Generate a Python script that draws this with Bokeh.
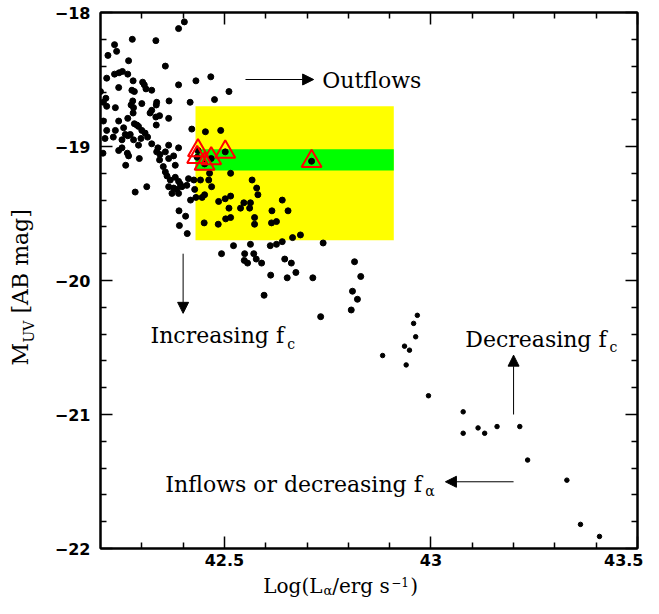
import math
from bokeh.plotting import figure
from bokeh.layouts import row, column
from bokeh.models import Range1d, LinearAxis, FixedTicker, Arrow, NormalHead, Label
from bokeh.embed import file_html
from bokeh.resources import INLINE

# ---------------- data ----------------
lae_x = [42.389, 42.403, 42.234, 42.277, 42.334, 42.239, 42.218, 42.268, 42.357, 42.215,
         42.234, 42.245, 42.253, 42.266, 42.279, 42.302, 42.306, 42.310, 42.244, 42.276,
         42.282, 42.324, 42.389, 42.431, 42.467, 42.511, 42.476, 42.417, 42.366, 42.336,
         42.335, 42.300, 42.278, 42.274, 42.280, 42.200, 42.213, 42.207, 42.215, 42.236,
         42.324, 42.279, 42.320, 42.334, 42.343, 42.365, 42.266, 42.244, 42.207, 42.282,
         42.288, 42.292, 42.335, 42.215, 42.236, 42.256, 42.300, 42.308, 42.260, 42.266,
         42.272, 42.211, 42.231, 42.252, 42.280, 42.298, 42.314, 42.292, 42.324, 42.339,
         42.365, 42.389, 42.206, 42.244, 42.252, 42.265, 42.268, 42.336, 42.344, 42.357,
         42.377, 42.294, 42.343, 42.365, 42.261, 42.352, 42.381, 42.357, 42.361, 42.369,
         42.381, 42.389, 42.393, 42.413, 42.365, 42.377, 42.385, 42.397, 42.409, 42.312,
         42.284, 42.373, 42.389, 42.418, 42.390, 42.406, 42.391, 42.410, 42.431, 42.421,
         42.454, 42.491, 42.436, 42.434, 42.502, 42.468, 42.452, 42.515, 42.711, 42.464,
         42.426, 42.442, 42.462, 42.567, 42.469, 42.428, 42.578, 42.581, 42.452, 42.515,
         42.446, 42.486, 42.502, 42.547, 42.563, 42.511, 42.539, 42.561, 42.640, 42.615,
         42.654, 42.573, 42.573, 42.451, 42.485, 42.503, 42.515, 42.614, 42.626, 42.665,
         42.684, 42.640, 42.626, 42.611, 42.563, 42.522, 42.493, 42.549, 42.571, 42.548,
         42.556, 42.577, 42.590, 42.646, 42.662, 42.673, 42.612, 42.652, 42.596, 42.739,
         42.815, 42.714, 42.830, 42.810, 42.822, 42.807, 42.733]
lae_y = [-18.12, -18.07, -18.24, -18.20, -18.21, -18.29, -18.32, -18.36, -18.40, -18.49,
         -18.46, -18.45, -18.44, -18.46, -18.51, -18.52, -18.54, -18.57, -18.56, -18.58,
         -18.59, -18.58, -18.54, -18.51, -18.48, -18.59, -18.65, -18.67, -18.66, -18.67,
         -18.69, -18.68, -18.66, -18.69, -18.71, -18.59, -18.64, -18.67, -18.70, -18.71,
         -18.73, -18.75, -18.75, -18.78, -18.77, -18.79, -18.79, -18.81, -18.81, -18.83,
         -18.84, -18.85, -18.84, -18.88, -18.88, -18.86, -18.88, -18.90, -18.91, -18.92,
         -18.91, -18.94, -18.93, -18.95, -18.95, -18.94, -18.93, -18.99, -18.98, -19.01,
         -18.99, -19.01, -19.05, -19.03, -19.01, -19.05, -19.07, -19.04, -19.06, -19.04,
         -19.07, -19.09, -19.10, -19.09, -19.14, -19.15, -19.14, -19.19, -19.22, -19.25,
         -19.23, -19.26, -19.28, -19.24, -19.30, -19.31, -19.32, -19.30, -19.29, -19.30,
         -19.34, -19.35, -19.35, -19.40, -19.48, -19.52, -19.59, -19.65, -19.38, -18.87,
         -18.89, -18.88, -19.03, -19.08, -19.04, -19.09, -19.13, -19.20, -19.11, -19.20,
         -19.25, -19.25, -19.25, -19.25, -19.30, -19.32, -19.31, -19.36, -19.36, -19.37,
         -19.38, -19.41, -19.39, -19.42, -19.42, -19.46, -19.46, -19.46, -19.40, -19.48,
         -19.48, -19.53, -19.58, -19.57, -19.58, -19.54, -19.53, -19.57, -19.56, -19.68,
         -19.66, -19.71, -19.73, -19.74, -19.73, -19.74, -19.80, -19.80, -19.80, -19.85,
         -19.87, -19.84, -19.87, -19.84, -19.87, -19.94, -19.96, -19.98, -20.11, -19.72,
         -19.86, -19.98, -19.97, -20.08, -20.14, -20.22, -20.27]

bright_x = [42.967, 42.883, 42.958, 42.963, 42.936, 42.948, 42.940, 42.994, 43.078, 43.078,
            43.114, 43.130, 43.160, 43.215, 43.234, 43.329, 43.362, 43.408]
bright_y = [-20.26, -20.56, -20.32, -20.42, -20.49, -20.52, -20.63, -20.86, -20.98, -21.14,
            -21.10, -21.14, -21.09, -21.09, -21.34, -21.49, -21.82, -21.91]

tri_x = [42.436, 42.434, 42.452, 42.468, 42.502, 42.711]
tri_y = [-19.03, -19.08, -19.13, -19.09, -19.04, -19.11]

box_x = [42.43, 42.91]
box_y = [-19.70, -18.70]
band_y = [-19.18, -19.02]

x_ticks = [42.5, 43.0, 43.5]
x_tick_labels = ["42.5", "43", "43.5"]
x_minor = [42.3, 42.4, 42.6, 42.7, 42.8, 42.9, 43.1, 43.2, 43.3, 43.4]
y_ticks = [-18, -19, -20, -21, -22]
y_tick_labels = ["\u221218", "\u221219", "\u221220", "\u221221", "\u221222"]
y_minor = [-18.2, -18.4, -18.6, -18.8, -19.2, -19.4, -19.6, -19.8, -20.2, -20.4,
           -20.6, -20.8, -21.2, -21.4, -21.6, -21.8]

SERIF = "DejaVu Serif"

# ---------------- main figure ----------------
p = figure(width=603, height=573, x_range=Range1d(42.2, 43.5), y_range=Range1d(-22, -18),
           output_backend="svg", toolbar_location=None,
           min_border_left=60, min_border_right=6, min_border_top=12, min_border_bottom=25)
p.background_fill_color = "white"
p.border_fill_color = "white"
p.outline_line_color = "black"
p.outline_line_width = 2
p.grid.visible = False

p.quad(left=box_x[0], right=box_x[1], bottom=box_y[0], top=box_y[1],
       fill_color="#FFFF00", line_color=None)
p.quad(left=box_x[0], right=box_x[1], bottom=band_y[0], top=band_y[1],
       fill_color="#00FF00", line_color=None)

p.scatter(lae_x, lae_y, size=6, color="black")
p.scatter(bright_x, bright_y, size=4.5, color="black")
p.scatter(tri_x, tri_y, marker="triangle", size=20, fill_color=None,
          line_color="#FF0000", line_width=2)

xt = FixedTicker(ticks=x_ticks, minor_ticks=x_minor)
yt = FixedTicker(ticks=y_ticks, minor_ticks=y_minor)


def style_axis(ax, labels):
    ax.axis_line_width = 2
    ax.axis_line_color = "black"
    ax.major_tick_in = 12
    ax.major_tick_out = 0
    ax.minor_tick_in = 6
    ax.minor_tick_out = 0
    ax.major_tick_line_width = 1.5
    ax.minor_tick_line_width = 1.5
    ax.major_tick_line_color = "black"
    ax.minor_tick_line_color = "black"
    ax.axis_label_standoff = 0
    if labels:
        ax.major_label_text_font = "DejaVu Sans"
        ax.major_label_text_font_style = "bold"
        ax.major_label_text_font_size = "16px"
        ax.major_label_text_color = "black"
    else:
        ax.major_label_text_font_size = "1px"
        ax.major_label_text_color = None
        ax.major_label_text_alpha = 0
        ax.major_label_standoff = 0


bx = p.xaxis[0]
bx.ticker = xt
bx.major_label_overrides = dict(zip(x_ticks, x_tick_labels))
bx.major_label_standoff = 5
style_axis(bx, True)

ly = p.yaxis[0]
ly.ticker = yt
ly.major_label_overrides = dict(zip(y_ticks, y_tick_labels))
ly.major_label_standoff = 10
style_axis(ly, True)

ta = LinearAxis(ticker=xt)
style_axis(ta, False)
p.add_layout(ta, "above")
ra = LinearAxis(ticker=yt)
style_axis(ra, False)
p.add_layout(ra, "right")


def label(fig, x, y, t, size="22px", angle=0.0):
    # (x, y) is the left end of the text, vertically at the middle of its line box
    fig.add_layout(Label(x=x, y=y, text=t, text_font=SERIF, text_font_size=size,
                         text_color="black", text_baseline="middle", text_align="left",
                         angle=angle))


def arrow(x0, y0, x1, y1):
    p.add_layout(Arrow(end=NormalHead(size=11, fill_color="black", line_color="black"),
                       x_start=x0, y_start=y0, x_end=x1, y_end=y1,
                       line_color="black", line_width=1))


label(p, 42.737, -18.504, "Outflows")
arrow(42.551, -18.50, 42.716, -18.50)

label(p, 42.321, -20.414, "Increasing f")
label(p, 42.652, -20.474, "c", size="14px")
arrow(42.40, -19.80, 42.40, -20.245)

label(p, 43.083, -20.438, "Decreasing f")
label(p, 43.432, -20.496, "c", size="14px")
arrow(43.20, -21.0, 43.20, -20.557)

label(p, 42.357, -21.522, "Inflows or decreasing f")
label(p, 42.986, -21.573, "\u03b1", size="14px")
arrow(43.20, -21.502, 43.035, -21.502)


def strip(w, h, xr, yr):
    f = figure(width=w, height=h, x_range=xr, y_range=yr, output_backend="svg",
               toolbar_location=None, x_axis_location=None, y_axis_location=None,
               min_border_left=0, min_border_right=0, min_border_top=0, min_border_bottom=0)
    f.outline_line_color = None
    f.grid.visible = False
    f.background_fill_color = "white"
    f.border_fill_color = "white"
    return f


# ---------------- y axis title strip (units: page pixels) ----------------
ylab = strip(40, 598, Range1d(0, 40), Range1d(598, 0))
rot = math.pi / 2
label(ylab, 20.4, 365, "M", angle=rot)
label(ylab, 28.2, 342, "UV", size="14px", angle=rot)
label(ylab, 20.4, 313, "[AB mag]", angle=rot)

# ---------------- x axis title strip (x shared with the main plot) ----------------
xlab = strip(603, 25, p.x_range, Range1d(598, 573))
label(xlab, 42.594, 585.5, "Log(L", size="20px")
label(xlab, 42.740, 590.0, "\u03b1", size="13px")
label(xlab, 42.761, 585.5, "/erg s", size="20px")
label(xlab, 42.904, 581.4, "\u22121", size="12px")
label(xlab, 42.950, 585.5, ")", size="20px")

layout = row(ylab, column(p, xlab, spacing=0), spacing=0)
open("out.html", "w").write(file_html(layout, INLINE))
